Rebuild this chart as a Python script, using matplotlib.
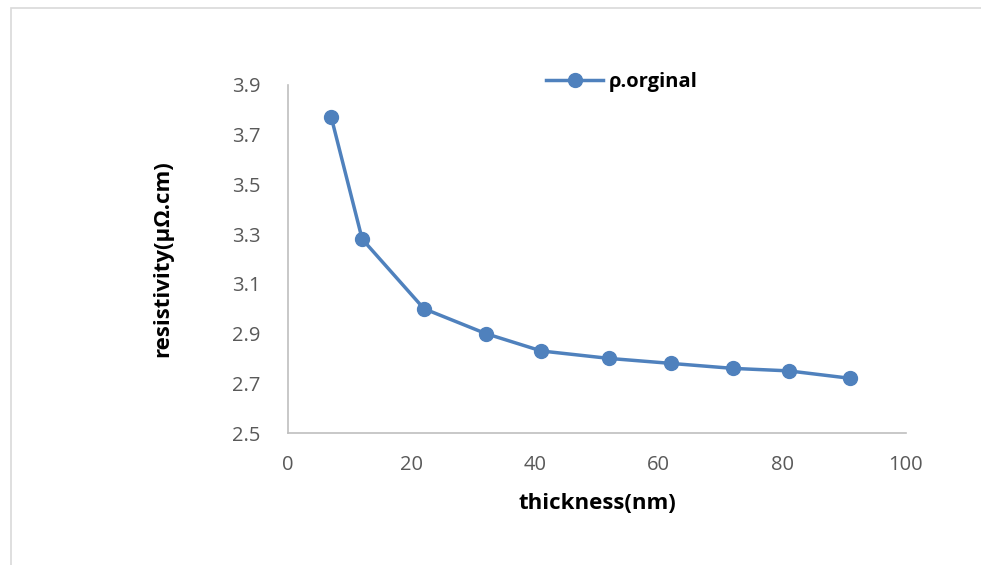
import matplotlib.pyplot as plt
from matplotlib.patches import Rectangle

# data
thickness = [7, 12, 22, 32, 41, 52, 62, 72, 81, 91]
resistivity = [3.77, 3.28, 3.0, 2.9, 2.83, 2.8, 2.78, 2.76, 2.75, 2.72]
x_ticks = [0, 20, 40, 60, 80, 100]
y_ticks = [2.5, 2.7, 2.9, 3.1, 3.3, 3.5, 3.7, 3.9]

plt.rcParams['font.family'] = ['Open Sans', 'DejaVu Sans']

fig = plt.figure(figsize=(9.81, 5.65), dpi=100)
ax = fig.add_axes([0.2936, 0.2336, 0.6299, 0.6160])

# light outer frame of the chart
fig.patches.append(Rectangle((11 / 981, -0.01), 1.0, 1 - 8 / 565 + 0.01,
                             transform=fig.transFigure, fill=False,
                             edgecolor='#d9d9d9', linewidth=1.2))

line_color = '#4f81bd'
ax.plot(thickness, resistivity, color=line_color, linewidth=2.5,
        marker='o', markersize=10, label='ρ.orginal')

ax.set_xlim(0, 100)
ax.set_ylim(2.5, 3.9)
ax.set_xticks(x_ticks)
ax.set_yticks(y_ticks)
ax.set_yticklabels([f'{v:.1f}' for v in y_ticks])

for side in ['top', 'right']:
    ax.spines[side].set_visible(False)
for side in ['left', 'bottom']:
    ax.spines[side].set_color('#bfbfbf')
    ax.spines[side].set_linewidth(1.2)

ax.tick_params(length=0, labelcolor='#595959', labelsize=14.5)
ax.tick_params(axis='y', pad=20)
ax.tick_params(axis='x', pad=16)

ax.set_xlabel('thickness(nm)', fontsize=16, fontweight='bold', labelpad=13)
ax.set_ylabel('resistivity(μΩ.cm)', fontsize=16, fontweight='bold', labelpad=42)

fig.legend(loc='center', bbox_to_anchor=(622 / 981, 1 - 82 / 565), frameon=False,
           prop={'weight': 'bold', 'size': 14.5}, handlelength=2.8,
           handletextpad=0.3)

fig.savefig('out.png', dpi=100)
